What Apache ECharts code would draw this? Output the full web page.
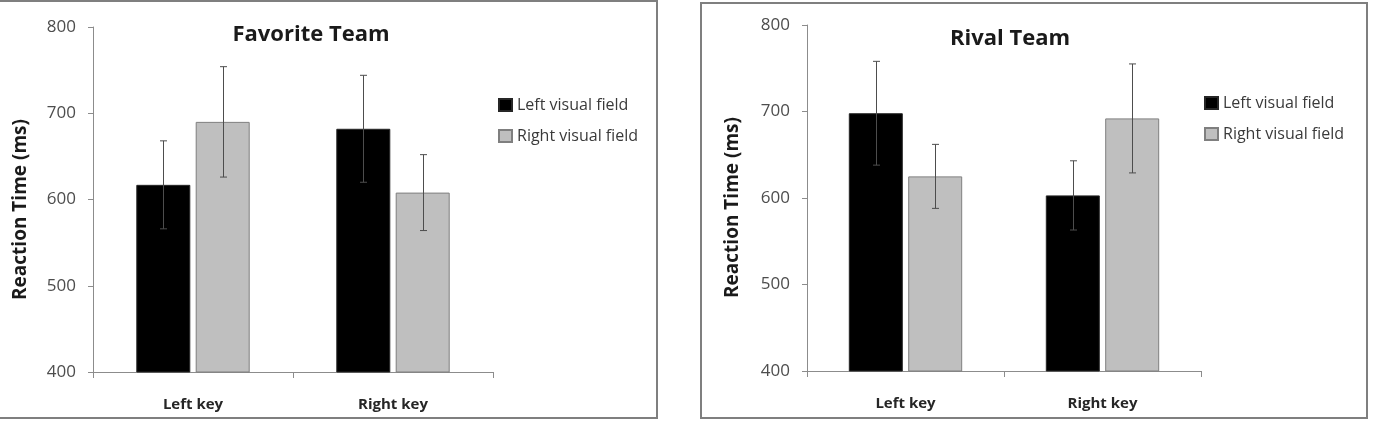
<!DOCTYPE html>
<html>
<head>
<meta charset="utf-8">
<script src="https://cdn.jsdelivr.net/npm/echarts@6/dist/echarts.min.js"></script>
<style>
  html, body { margin: 0; padding: 0; background: #fff; }
  #main { width: 1374px; height: 423px; }
</style>
</head>
<body>
<div id="main"></div>
<script>
// data
const categories = ['Left key', 'Right key']
const seriesNames = ['Left visual field', 'Right visual field']
const yTicks = [400, 500, 600, 700, 800]

const favLeftField = [617, 682]
const favLeftFieldErr = [51, 62]
const favRightField = [690, 608]
const favRightFieldErr = [64, 44]

const rivLeftField = [698, 603]
const rivLeftFieldErr = [60, 40]
const rivRightField = [625, 692]
const rivRightFieldErr = [37, 63]

const font = '"Open Sans", sans-serif'
const BAR_W = 54
const BAR_GAP = 0.1

const myChart = echarts.init(document.getElementById('main'))

// error bars: [category, low, high]
const errData = (vals, errs) => vals.map((v, i) => [i, v - errs[i], v + errs[i]])

const errSeries = (vals, errs, gridIdx, side) => ({
  type: 'custom',
  xAxisIndex: gridIdx,
  yAxisIndex: gridIdx,
  z: 5,
  silent: true,
  data: errData(vals, errs),
  renderItem: function (params, api) {
    const off = side * BAR_W * (1 + BAR_GAP) / 2
    const hi = api.coord([api.value(0), api.value(2)])
    const lo = api.coord([api.value(0), api.value(1)])
    const x = Math.round(hi[0] + off) + 0.5
    const style = { stroke: '#4d4d4d', lineWidth: 1 }
    return {
      type: 'group',
      children: [
        { type: 'line', shape: { x1: x, y1: hi[1], x2: x, y2: lo[1] }, style: style },
        { type: 'line', shape: { x1: x - 3.5, y1: hi[1], x2: x + 3.5, y2: hi[1] }, style: style },
        { type: 'line', shape: { x1: x - 3.5, y1: lo[1], x2: x + 3.5, y2: lo[1] }, style: style }
      ]
    }
  }
})

const barSeries = (name, vals, gridIdx, fill, border) => ({
  name: name,
  type: 'bar',
  xAxisIndex: gridIdx,
  yAxisIndex: gridIdx,
  barWidth: BAR_W,
  barGap: (BAR_GAP * 100) + '%',
  data: vals,
  itemStyle: { color: fill, borderColor: border, borderWidth: 1 },
  emphasis: { disabled: true }
})

const xAxisOf = (gridIdx) => ({
  type: 'category',
  gridIndex: gridIdx,
  data: categories,
  axisLine: { lineStyle: { color: '#8c8c8c', width: 1 } },
  axisTick: { show: true, length: 6, lineStyle: { color: '#8c8c8c' } },
  axisLabel: { margin: 25, fontFamily: font, fontSize: 15, fontWeight: 'bold', color: '#262626' }
})

const yAxisOf = (gridIdx, gap, shift) => ({
  type: 'value',
  gridIndex: gridIdx,
  min: yTicks[0],
  max: yTicks[yTicks.length - 1],
  interval: 100,
  name: 'Reaction Time (ms)',
  nameLocation: 'middle',
  nameGap: gap,
  nameTextStyle: { fontFamily: font, fontSize: 19, fontWeight: 'bold', color: '#1a1a1a', padding: [0, shift, 0, 0] },
  axisLine: { show: true, lineStyle: { color: '#8c8c8c', width: 1 } },
  axisTick: { show: true, length: 5, lineStyle: { color: '#8c8c8c' } },
  axisLabel: { margin: 17, fontFamily: font, fontSize: 17, color: '#4d4d4d' },
  splitLine: { show: false }
})

const legendOf = (left, top) => ({
  orient: 'vertical',
  left: left,
  top: top,
  data: seriesNames,
  icon: 'rect',
  itemWidth: 13,
  itemHeight: 12,
  itemGap: 15,
  selectedMode: false,
  textStyle: { fontFamily: font, fontSize: 16, lineHeight: 16, color: '#3a3a3a' }
})

const option = {
  animation: false,
  backgroundColor: '#fff',
  title: [
    { text: 'Favorite Team', left: 306, top: 19, textAlign: 'center',
      textStyle: { fontFamily: font, fontSize: 22, fontWeight: 'bold', color: '#1a1a1a' } },
    { text: 'Rival Team', left: 1005, top: 23, textAlign: 'center',
      textStyle: { fontFamily: font, fontSize: 22, fontWeight: 'bold', color: '#1a1a1a' } }
  ],
  legend: [legendOf(493, 92), legendOf(1199, 90)],
  grid: [
    { left: 93, top: 27, width: 400, height: 345 },
    { left: 807, top: 25, width: 394, height: 346 }
  ],
  xAxis: [xAxisOf(0), xAxisOf(1)],
  yAxis: [yAxisOf(0, 63, 20), yAxisOf(1, 65, 19)],
  graphic: [
    { type: 'rect', silent: true, shape: { x: -1, y: 1, width: 658, height: 417 },
      style: { fill: 'none', stroke: '#7f7f7f', lineWidth: 2 } },
    { type: 'rect', silent: true, shape: { x: 701, y: 3, width: 666, height: 415 },
      style: { fill: 'none', stroke: '#7f7f7f', lineWidth: 2 } }
  ],
  series: [
    barSeries(seriesNames[0], favLeftField, 0, '#000000', '#262626'),
    barSeries(seriesNames[1], favRightField, 0, '#bfbfbf', '#7f7f7f'),
    barSeries(seriesNames[0], rivLeftField, 1, '#000000', '#262626'),
    barSeries(seriesNames[1], rivRightField, 1, '#bfbfbf', '#7f7f7f'),
    errSeries(favLeftField, favLeftFieldErr, 0, -1),
    errSeries(favRightField, favRightFieldErr, 0, 1),
    errSeries(rivLeftField, rivLeftFieldErr, 1, -1),
    errSeries(rivRightField, rivRightFieldErr, 1, 1)
  ]
}

myChart.setOption(option)
window.addEventListener('resize', function () {
  myChart.resize()
})
</script>
</body>
</html>
